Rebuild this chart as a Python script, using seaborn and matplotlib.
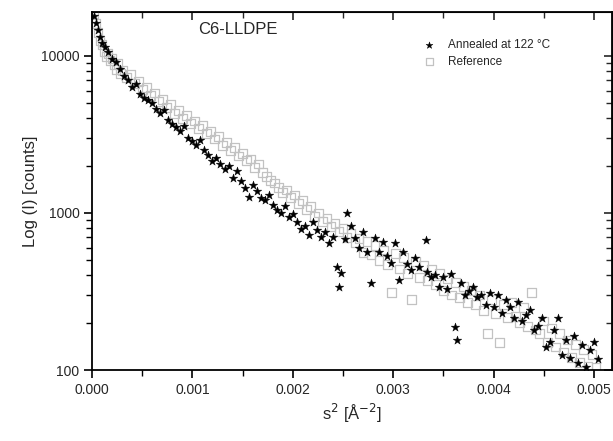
import numpy as np
import pandas as pd
import matplotlib
matplotlib.use("Agg")
import matplotlib.pyplot as plt
import seaborn as sns
from matplotlib.ticker import FixedLocator, MultipleLocator, NullFormatter, LogLocator

# ---- data ----
ann_s2 = [0.00002, 0.00004, 0.00006, 0.00008, 0.00010, 0.00013, 0.00016, 0.00020, 0.00024, 0.00028,
          0.00032, 0.00036, 0.00040, 0.00044, 0.00048, 0.00052, 0.00056, 0.00060, 0.00064, 0.00068,
          0.00072, 0.00076, 0.00080, 0.00084, 0.00088, 0.00092, 0.00096, 0.00100, 0.00104, 0.00108,
          0.00112, 0.00116, 0.00120, 0.00124, 0.00128, 0.00132, 0.00136, 0.00140, 0.00144, 0.00148,
          0.00152, 0.00156, 0.00160, 0.00164, 0.00168, 0.00172, 0.00176, 0.00180, 0.00184, 0.00188,
          0.00192, 0.00196, 0.00200, 0.00204, 0.00208, 0.00212, 0.00216, 0.00220, 0.00224, 0.00228,
          0.00232, 0.00236, 0.00240, 0.00244, 0.00246, 0.00248, 0.00252, 0.00254, 0.00258, 0.00262,
          0.00266, 0.00270, 0.00274, 0.00278, 0.00282, 0.00286, 0.00290, 0.00294, 0.00298, 0.00302,
          0.00306, 0.00310, 0.00314, 0.00318, 0.00322, 0.00326, 0.00333, 0.00334, 0.00338, 0.00342,
          0.00346, 0.00350, 0.00354, 0.00358, 0.00362, 0.00364, 0.00368, 0.00372, 0.00376, 0.00380,
          0.00384, 0.00388, 0.00392, 0.00396, 0.00400, 0.00404, 0.00408, 0.00412, 0.00416, 0.00420,
          0.00424, 0.00428, 0.00432, 0.00436, 0.00440, 0.00444, 0.00448, 0.00452, 0.00456, 0.00460,
          0.00464, 0.00468, 0.00472, 0.00476, 0.00480, 0.00484, 0.00488, 0.00492, 0.00496, 0.00500,
          0.00504]
ann_I = [17800, 16200, 14500, 13200, 12100, 11300, 10500, 9600, 9100, 8300,
         7400, 7000, 6300, 6600, 5700, 5400, 5200, 5000, 4600, 4300,
         4500, 3900, 3700, 3500, 3300, 3550, 3000, 2850, 2700, 2900,
         2500, 2350, 2150, 2250, 2050, 1900, 1980, 1670, 1850, 1600,
         1450, 1260, 1500, 1380, 1250, 1200, 1300, 1120, 1050, 1000,
         1100, 940, 980, 870, 790, 830, 725, 870, 780, 700,
         760, 640, 700, 450, 340, 415, 680, 1000, 820, 690,
         600, 760, 560, 357, 690, 560, 650, 530, 480, 640,
         375, 560, 470, 430, 520, 450, 673, 420, 390, 400,
         340, 390, 330, 410, 188, 155, 360, 300, 320, 340,
         290, 300, 260, 310, 250, 300, 230, 280, 250, 215,
         270, 205, 225, 240, 180, 190, 215, 140, 150, 180,
         215, 125, 155, 120, 165, 110, 145, 105, 135, 150,
         118]

ref_s2 = [0.00002, 0.00004, 0.00006, 0.00008, 0.00010, 0.00012, 0.00014, 0.00016, 0.00018, 0.00020,
          0.00022, 0.00024, 0.00026, 0.00028, 0.00030, 0.00034, 0.00038, 0.00042, 0.00046, 0.00050,
          0.00054, 0.00058, 0.00062, 0.00066, 0.00070, 0.00074, 0.00078, 0.00082, 0.00086, 0.00090,
          0.00094, 0.00098, 0.00102, 0.00106, 0.00110, 0.00114, 0.00118, 0.00122, 0.00126, 0.00130,
          0.00134, 0.00138, 0.00142, 0.00146, 0.00150, 0.00154, 0.00158, 0.00162, 0.00166, 0.00170,
          0.00174, 0.00178, 0.00182, 0.00186, 0.00190, 0.00194, 0.00198, 0.00202, 0.00206, 0.00210,
          0.00214, 0.00218, 0.00222, 0.00226, 0.00230, 0.00234, 0.00238, 0.00242, 0.00246, 0.00250,
          0.00254, 0.00258, 0.00262, 0.00266, 0.00270, 0.00274, 0.00278, 0.00282, 0.00286, 0.00290,
          0.00294, 0.00298, 0.00302, 0.00306, 0.00310, 0.00314, 0.00318, 0.00322, 0.00326, 0.00330,
          0.00334, 0.00338, 0.00342, 0.00346, 0.00350, 0.00354, 0.00358, 0.00362, 0.00366, 0.00370,
          0.00374, 0.00378, 0.00382, 0.00386, 0.00390, 0.00394, 0.00398, 0.00402, 0.00406, 0.00410,
          0.00414, 0.00418, 0.00422, 0.00426, 0.00430, 0.00434, 0.00438, 0.00442, 0.00446, 0.00450,
          0.00454, 0.00458, 0.00462, 0.00466, 0.00470, 0.00474, 0.00478, 0.00482, 0.00486, 0.00490,
          0.00494, 0.00498, 0.00502]
ref_I = [18500, 16000, 14000, 12500, 11800, 10600, 9900, 10400, 9300, 9600,
         8800, 8200, 8900, 7700, 8100, 7300, 7600, 6700, 6900, 6100,
         6300, 5600, 5800, 5100, 5300, 4700, 4900, 4300, 4500, 4000,
         4150, 3700, 3850, 3450, 3600, 3200, 3300, 2950, 3050, 2700,
         2800, 2500, 2600, 2300, 2400, 2150, 2200, 1950, 2050, 1800,
         1700, 1600, 1550, 1450, 1350, 1400, 1250, 1300, 1150, 1200,
         1050, 1100, 950, 1000, 880, 920, 820, 860, 760, 800,
         700, 740, 650, 690, 560, 660, 540, 620, 500, 580,
         470, 310, 550, 440, 520, 410, 280, 490, 390, 460,
         370, 440, 350, 410, 320, 380, 300, 360, 290, 340,
         270, 320, 260, 300, 240, 170, 280, 230, 150, 260,
         215, 270, 220, 200, 250, 190, 310, 180, 170, 205,
         150, 185, 140, 170, 130, 155, 120, 145, 112, 135,
         106, 125, 104]

label_ann = "Annealed at 122 °C"
label_ref = "Reference"
xticks = [0.000, 0.001, 0.002, 0.003, 0.004, 0.005]
xticklabels = ["0.000", "0.001", "0.002", "0.003", "0.004", "0.005"]
yticks = [100, 1000, 10000]
yticklabels = ["100", "1000", "10000"]

# ---- plot ----
sns.set_style("white")
plt.rcParams['font.family'] = ['Liberation Sans', 'DejaVu Sans']

fig = plt.figure(figsize=(6.13, 4.41), dpi=100)
ax = fig.add_axes([92/613, 1 - 370/441, (612 - 92)/613, (370 - 12)/441])

df_ref = pd.DataFrame({"s2": ref_s2, "I": ref_I})
df_ann = pd.DataFrame({"s2": ann_s2, "I": ann_I})

sns.scatterplot(data=df_ref, x="s2", y="I", ax=ax, marker="s", s=40,
                facecolor="none", edgecolor="#c2c2c2", linewidth=0.9,
                label=label_ref, zorder=2)
sns.scatterplot(data=df_ann, x="s2", y="I", ax=ax, marker="*", s=42,
                color="black", edgecolor="black", linewidth=0.3,
                label=label_ann, zorder=3)

ax.set_yscale("log")
ax.set_xlim(0.0, 0.00518)
ax.set_ylim(100, 19000)

ax.xaxis.set_major_locator(FixedLocator(xticks))
ax.set_xticklabels(xticklabels)
ax.xaxis.set_minor_locator(MultipleLocator(0.0005))
ax.yaxis.set_major_locator(FixedLocator(yticks))
ax.set_yticklabels(yticklabels)
ax.yaxis.set_minor_locator(LogLocator(base=10, subs=np.arange(2, 10)))
ax.yaxis.set_minor_formatter(NullFormatter())

ax.tick_params(axis="both", which="major", direction="out", length=6, width=1.2,
               labelsize=10, color="black", pad=3, left=True, bottom=True)
ax.tick_params(axis="both", which="minor", direction="out", length=4, width=1.0,
               color="black", left=True, bottom=True)

for side in ["left", "bottom", "top", "right"]:
    ax.spines[side].set_color("black")
    ax.spines[side].set_linewidth(1.3)

# mirrored inward ticks on top and right
sx = ax.secondary_xaxis("top")
sx.xaxis.set_major_locator(FixedLocator(xticks))
sx.xaxis.set_minor_locator(MultipleLocator(0.0005))
sx.tick_params(which="major", direction="in", length=6, width=1.2, labeltop=False)
sx.tick_params(which="minor", direction="in", length=4, width=1.0)
sx.set_xticklabels([])
sy = ax.secondary_yaxis("right")
sy.yaxis.set_major_locator(FixedLocator(yticks))
sy.yaxis.set_minor_locator(LogLocator(base=10, subs=np.arange(2, 10)))
sy.yaxis.set_minor_formatter(NullFormatter())
sy.tick_params(which="major", direction="in", length=6, width=1.2, labelright=False)
sy.tick_params(which="minor", direction="in", length=4, width=1.0)
sy.set_yticklabels([])

ax.set_xlabel("s$^2$ [Å$^{-2}$]", fontsize=12, labelpad=4)
ax.set_ylabel("Log (I) [counts]", fontsize=12, labelpad=2)

ax.text(0.28, 0.95, "C6-LLDPE", transform=ax.transAxes, fontsize=12,
        ha="center", va="center")

handles, labels = ax.get_legend_handles_labels()
order = [labels.index(label_ann), labels.index(label_ref)]
leg = ax.legend([handles[i] for i in order], [labels[i] for i in order],
                loc="upper left", bbox_to_anchor=(0.605, 0.955), frameon=False,
                fontsize=8.5, handletextpad=0.6, labelspacing=0.45, markerscale=0.8)

fig.savefig("out.png", dpi=100)
